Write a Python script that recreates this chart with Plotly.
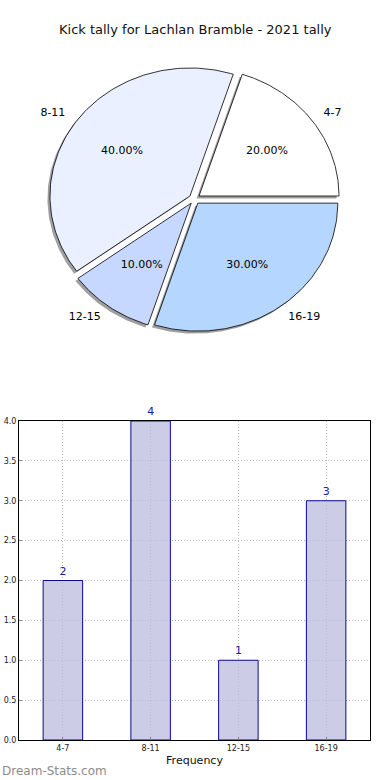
import numpy as np
import plotly.graph_objects as go

# ---- data ----
categories = ["4-7", "8-11", "12-15", "16-19"]
counts = [2, 4, 1, 3]
slice_colors = ["#ffffff", "#eaf0ff", "#c6d8ff", "#b4d6ff"]
title_text = "Kick tally for Lachlan Bramble - 2021 tally"
y_ticks = [0.0, 0.5, 1.0, 1.5, 2.0, 2.5, 3.0, 3.5, 4.0]

W, H = 390, 780
font = "DejaVu Sans"

fig = go.Figure()

# ---- pie drawn as elliptical wedges on its own axes ----
RX, RY = 140.0, 128.0       # px per unit on pie axes
CX, CY = 194.5, 199.0       # pie centre in px from top-left
explode = 0.04
shadow_dx, shadow_dy = -2.5 / RX, -2.5 / RY

total = sum(counts)
fracs = [c / total for c in counts]
starts = np.cumsum([0] + fracs[:-1]) * 2 * np.pi

wedges = []
for f, s in zip(fracs, starts):
    e = s + f * 2 * np.pi
    mid = (s + e) / 2
    ox, oy = explode * np.cos(mid), explode * np.sin(mid)
    t = np.linspace(s, e, 120)
    xs = np.concatenate([[ox], ox + np.cos(t), [ox]])
    ys = np.concatenate([[oy], oy + np.sin(t), [oy]])
    wedges.append((xs, ys, mid, ox, oy))

for xs, ys, *_ in wedges:
    fig.add_trace(go.Scatter(x=xs + shadow_dx, y=ys + shadow_dy, fill="toself",
                             fillcolor="rgba(80,80,80,0.55)", line=dict(width=0),
                             mode="lines", xaxis="x2", yaxis="y2", hoverinfo="skip",
                             showlegend=False))
for (xs, ys, mid, ox, oy), col, cat, f in zip(wedges, slice_colors, categories, fracs):
    fig.add_trace(go.Scatter(x=xs, y=ys, fill="toself", fillcolor=col,
                             line=dict(color="black", width=0.8), mode="lines",
                             xaxis="x2", yaxis="y2", name=cat, showlegend=False))

# labels and percentages
for (xs, ys, mid, ox, oy), cat, f in zip(wedges, categories, fracs):
    lx, ly = ox + 1.1 * np.cos(mid), oy + 1.1 * np.sin(mid)
    pos = "middle right" if lx > 0 else "middle left"
    fig.add_trace(go.Scatter(x=[lx], y=[ly], mode="text", text=[cat], textposition=pos,
                             textfont=dict(family=font, size=11, color="black"),
                             xaxis="x2", yaxis="y2", showlegend=False, hoverinfo="skip"))
    px, py = ox + 0.6 * np.cos(mid), oy + 0.6 * np.sin(mid)
    fig.add_trace(go.Scatter(x=[px], y=[py], mode="text", text=[f"{f*100:.2f}%"],
                             textposition="middle center",
                             textfont=dict(family=font, size=11, color="black"),
                             xaxis="x2", yaxis="y2", showlegend=False, hoverinfo="skip"))

# ---- bar chart ----
fig.add_trace(go.Bar(x=categories, y=counts, width=0.45,
                     marker=dict(color="rgba(190,190,224,0.78)",
                                 line=dict(color="#0a0a96", width=1)),
                     text=[str(c) for c in counts], textposition="outside",
                     textfont=dict(family=font, size=11, color="#1a1aa0"),
                     cliponaxis=False, showlegend=False))

pie_dom_y = [0.5, 1.0]
pie_h = (pie_dom_y[1] - pie_dom_y[0]) * H

grid_style = dict(showgrid=True, gridcolor="#b8b8b8", griddash="1px,2px", gridwidth=1)

fig.update_layout(
    width=W, height=H,
    margin=dict(l=0, r=0, t=0, b=0),
    paper_bgcolor="white", plot_bgcolor="white",
    font=dict(family=font, color="#222"),
    xaxis=dict(domain=[19 / W, 370 / W], range=[-0.5, 3.5], type="category",
               showline=True, linecolor="black", linewidth=1, mirror=True,
               ticks="inside", ticklen=3, tickcolor="#888",
               tickfont=dict(size=8, color="#222"), automargin=False,
               title=dict(text="Frequency", font=dict(size=11, color="#111"), standoff=4),
               zeroline=False, **grid_style),
    yaxis=dict(domain=[40 / H, 359 / H], range=[0, 4], tickvals=y_ticks,
               tickformat=".1f", automargin=False,
               showline=True, linecolor="black", linewidth=1, mirror=True,
               ticks="inside", ticklen=3, tickcolor="#888",
               tickfont=dict(size=8, color="#222"), zeroline=False, **grid_style),
    xaxis2=dict(domain=[0, 1], range=[-CX / RX, (W - CX) / RX], visible=False,
                fixedrange=True, automargin=False),
    yaxis2=dict(domain=pie_dom_y, range=[-(pie_h - CY) / RY, CY / RY], visible=False,
                fixedrange=True, automargin=False),
    annotations=[
        dict(text=title_text, xref="paper", yref="paper", x=0.5, y=1 - 30 / H,
             showarrow=False, font=dict(family=font, size=13, color="#111"),
             xanchor="center", yanchor="middle"),
        dict(text="Dream-Stats.com", xref="paper", yref="paper", x=0, y=9 / H,
             showarrow=False, font=dict(family=font, size=12, color="#8c8c8c"),
             xanchor="left", yanchor="middle"),
    ],
)

post = """
document.documentElement.style.margin='0';
document.documentElement.style.padding='0';
document.documentElement.style.overflow='hidden';
document.body.style.margin='0';
document.body.style.padding='0';
document.body.style.overflow='hidden';
document.body.style.height='780px';
var gd = document.getElementsByClassName('plotly-graph-div')[0];
gd.style.display='block';
if (gd.parentElement) { gd.parentElement.style.margin='0'; gd.parentElement.style.padding='0'; }
"""

fig.write_html("out.html", config={"displayModeBar": False}, post_script=post)
